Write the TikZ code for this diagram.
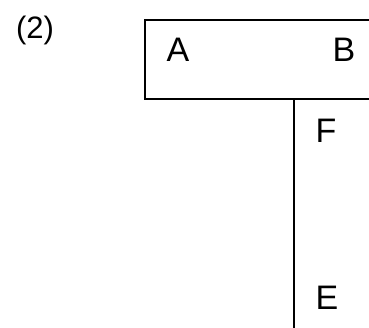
\documentclass[tikz,border=0pt]{standalone}
\usepackage{fontspec}
\setmainfont{Liberation Sans}
\tikzset{
  lbl/.style={inner sep=0pt, font=\fontsize{34}{36}\selectfont},
  edge/.style={line width=1.8pt, line cap=rect}
}
\begin{document}
\begin{tikzpicture}[x=1pt,y=-1pt]
\useasboundingbox (0,0) rectangle (369,327);
\fill[white] (0,0) rectangle (369,327);
\node[inner sep=0pt, font=\fontsize{31}{33}\selectfont] (num) at (35,30) {(2)};
\coordinate (tr) at (370,20);
\coordinate (tl) at (145,20);
\coordinate (bl) at (145,99);
\coordinate (br) at (370,99);
\coordinate (vt) at (294,99);
\coordinate (vb) at (294,328);
\draw[edge] (tr) -- (tl) -- (bl) -- (br);
\draw[edge] (vt) -- (vb);
\node[lbl] (A) at (178,50) {A};
\node[lbl] (B) at (344,50) {B};
\node[lbl] (F) at (326,131) {F};
\node[lbl] (E) at (327,298) {E};
\end{tikzpicture}
\end{document}
